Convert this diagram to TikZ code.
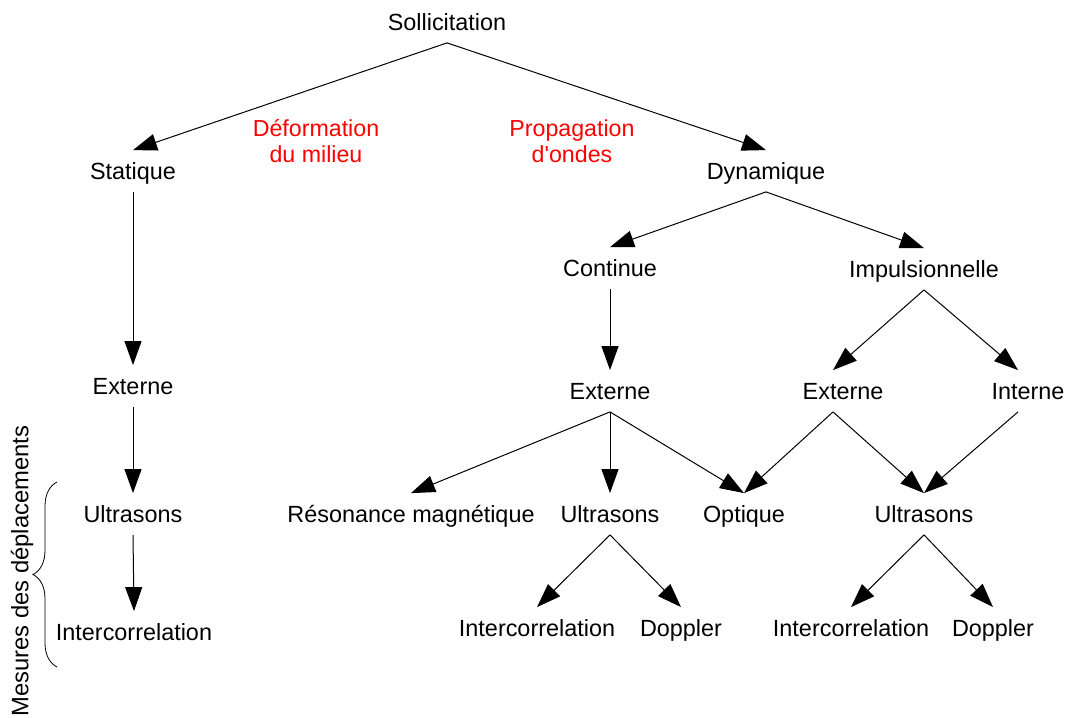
\documentclass[tikz,border=0pt]{standalone}
\usepackage{fontspec}
\setmainfont{Liberation Sans}
\usetikzlibrary{arrows.meta,decorations.pathreplacing}
\begin{document}
\begin{tikzpicture}[x=0.5pt, y=-0.5pt,
        terme/.style={inner xsep=2pt, inner ysep=6.1pt, text height=8.3pt, text depth=0pt, font=\fontsize{11.7}{13}\selectfont},
        remarque/.style={align=center, text=red, inner sep=0pt, font=\fontsize{11.6}{13}\selectfont},
        fleche/.style={-{Triangle[length=12pt, width=8.5pt]}, line width=0.5pt}]
        \useasboundingbox (0,0) rectangle (1069,717);
        \node[terme] (SOLL) at (447,22) {Sollicitation};
        \node[terme] (STAT) at (133,171) {Statique};
        \node[terme] (DYN) at (766,171) {Dynamique};
        \node[remarque] (DEF) at (316,141) {D\'eformation\\du milieu};
        \node[remarque] (PROP) at (572,141) {Propagation\\d\textquotesingle ondes};
        \node[terme] (CONT) at (610,268) {Continue};
        \node[terme] (IMPU) at (924,269) {Impulsionnelle};
        \node[terme] (STAT_EXT) at (133,386) {Externe};
        \node[terme] (CONT_EXT) at (610,391) {Externe};
        \node[terme] (IMPU_EXT) at (843,391) {Externe};
        \node[terme] (IMPU_INT) at (1028,391) {Interne};
        \node[terme] (STAT_US) at (133,514) {Ultrasons};
        \node[terme] (RESO) at (411,514) {R\'esonance magn\'etique};
        \node[terme] (CONT_US) at (610,514) {Ultrasons};
        \node[terme] (OPTI) at (744,514) {Optique};
        \node[terme] (IMPU_US) at (924,514) {Ultrasons};
        \node[terme] (STAT_COR) at (134,632) {Intercorrelation};
        \node[terme] (CONT_COR) at (537,628) {Intercorrelation};
        \node[terme] (CONT_DOP) at (681,628) {Doppler};
        \node[terme] (IMPU_COR) at (851,628) {Intercorrelation};
        \node[terme] (IMPU_DOP) at (993,628) {Doppler};
        \node[terme, rotate=90, font=\fontsize{11.9}{13}\selectfont] (MESU) at (20,571) {Mesures des d\'eplacements};
        \coordinate (BRACE_A) at (57,667);
        \coordinate (BRACE_B) at (57,482);
        \draw[fleche] (SOLL.south) to (STAT.north);
        \draw[fleche] (SOLL.south) to (DYN.north);
        \draw[fleche] (STAT.south) to (STAT_EXT.north);
        \draw[fleche] (STAT_EXT.south) to (STAT_US.north);
        \draw[fleche] (STAT_US.south) to (STAT_COR.north);
        \draw[fleche] (DYN.south) to (CONT.north);
        \draw[fleche] (DYN.south) to (IMPU.north);
        \draw[fleche] (CONT.south) to (CONT_EXT.north);
        \draw[fleche] (IMPU.south) to ([xshift=-5pt]IMPU_EXT.north);
        \draw[fleche] (IMPU.south) to ([xshift=-5pt]IMPU_INT.north);
        \draw[fleche] (CONT_EXT.south) to (RESO.north);
        \draw[fleche] (CONT_EXT.south) to (CONT_US.north);
        \draw[fleche] (CONT_EXT.south) to (OPTI.north);
        \draw[fleche] ([xshift=-5pt]IMPU_EXT.south) to (OPTI.north);
        \draw[fleche] ([xshift=-5pt]IMPU_EXT.south) to (IMPU_US.north);
        \draw[fleche] ([xshift=-5pt]IMPU_INT.south) to (IMPU_US.north);
        \draw[fleche] (CONT_US.south) to (CONT_COR.north);
        \draw[fleche] (CONT_US.south) to (CONT_DOP.north);
        \draw[fleche] (IMPU_US.south) to (IMPU_COR.north);
        \draw[fleche] (IMPU_US.south) to (IMPU_DOP.north);
        \draw[line width=0.4pt, decorate, decoration={brace, amplitude=12pt}] (BRACE_A) to (BRACE_B);
\end{tikzpicture}
\end{document}
